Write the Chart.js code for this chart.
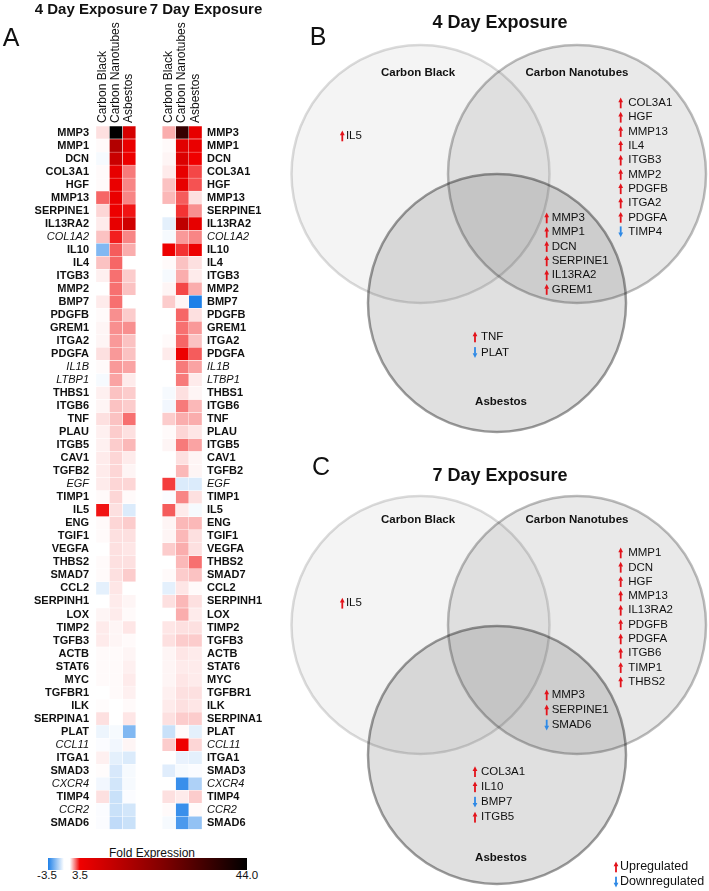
<!DOCTYPE html>
<html lang="en">
<head>
<meta charset="UTF-8">
<title>Fibrosis-related gene expression after particle exposure</title>
<script src="https://cdn.jsdelivr.net/npm/chart.js"></script>
<style>
  body { margin: 0; background: #fff; font-family: Arial, "Liberation Sans", sans-serif; }
  #page { position: relative; width: 709px; height: 891px; overflow: hidden; }
  canvas { position: absolute; }
  .t { position: absolute; transform: translate(-50%, -50%); white-space: nowrap; line-height: 1; color: #111; }
  #cbar { position: absolute; left: 48px; top: 858px; width: 199px; height: 12px;
    background: linear-gradient(to right, rgb(30,128,232) 0%, #fff 8%, #fff 11%, rgb(240,0,0) 16%, rgb(128,0,0) 58%, #000 100%); }
</style>
</head>
<body>
<div id="page">
  <canvas id="heat" width="280" height="843" style="left:0;top:0"></canvas>
  <canvas id="vennB" width="429" height="440" style="left:280px;top:0"></canvas>
  <canvas id="vennC" width="429" height="451" style="left:280px;top:440px"></canvas>

  <div class="t" style="left:91px;top:8px;font-size:15px;font-weight:bold">4 Day Exposure</div>
  <div class="t" style="left:206px;top:8px;font-size:15px;font-weight:bold">7 Day Exposure</div>
  <div class="t" style="left:11px;top:37px;font-size:25px">A</div>

  <div class="t" style="left:152px;top:853px;font-size:12px">Fold Expression</div>
  <div id="cbar"></div>
  <div class="t" style="left:47px;top:876px;font-size:11.5px">-3.5</div>
  <div class="t" style="left:80px;top:876px;font-size:11.5px">3.5</div>
  <div class="t" style="left:247px;top:876px;font-size:11.5px">44.0</div>

  <div class="t" style="left:318px;top:36px;font-size:25px">B</div>
  <div class="t" style="left:500px;top:22px;font-size:18px;font-weight:bold">4 Day Exposure</div>
  <div class="t" style="left:321px;top:466px;font-size:25px">C</div>
  <div class="t" style="left:500px;top:475px;font-size:18px;font-weight:bold">7 Day Exposure</div>
</div>

<script>
// ---- heatmap data (fold expression, negative = downregulated) ----
const genes = ['MMP3','MMP1','DCN','COL3A1','HGF','MMP13','SERPINE1','IL13RA2','COL1A2','IL10',
  'IL4','ITGB3','MMP2','BMP7','PDGFB','GREM1','ITGA2','PDGFA','IL1B','LTBP1',
  'THBS1','ITGB6','TNF','PLAU','ITGB5','CAV1','TGFB2','EGF','TIMP1','IL5',
  'ENG','TGIF1','VEGFA','THBS2','SMAD7','CCL2','SERPINH1','LOX','TIMP2','TGFB3',
  'ACTB','STAT6','MYC','TGFBR1','ILK','SERPINA1','PLAT','CCL11','ITGA1','SMAD3',
  'CXCR4','TIMP4','CCR2','SMAD6'];
const italicGenes = ['COL1A2','IL1B','LTBP1','EGF','CCL11','CXCR4','CCR2'];
const columnNames = ['Carbon Black','Carbon Nanotubes','Asbestos','','','Carbon Black','Carbon Nanotubes','Asbestos'];

const cb4 = [1.3,1.05,-1.1,1.05,1.05,2.5,1.4,1.2,1.6,-2.4,
  1.6,1.15,1.0,1.2,1.05,1.1,1.1,1.3,1.05,-1.1,
  1.15,1.1,1.3,1.15,1.15,1.2,1.2,1.2,1.05,3.3,
  1.05,1.05,1.0,1.05,1.05,-1.3,1.0,1.1,1.2,1.2,
  1.05,1.05,1.05,1.0,1.03,1.3,-1.2,-1.05,1.15,1.03,
  -1.15,1.3,-1.05,-1.05];
const cnt4 = [44,14,10,5,4.5,4.5,4,5,3.2,2.6,
  2.5,2.4,2.4,2.4,2.1,2.1,2.0,2.0,2.0,1.9,
  1.6,1.6,1.6,1.5,1.5,1.4,1.4,1.4,1.4,1.3,
  1.4,1.3,1.3,1.3,1.3,1.25,1.2,1.2,1.1,1.1,
  1.05,1.05,1.05,1.05,1.0,1.0,-1.1,-1.15,-1.3,-1.45,
  -1.5,-1.6,-1.6,-1.7];
const asb4 = [8,4.5,4,2.3,2.2,2.2,3.3,9,2.2,1.8,
  1.0,1.5,1.6,1.0,1.5,2.1,1.6,1.6,1.9,1.2,
  1.5,1.5,2.4,1.3,1.7,1.2,1.1,1.4,1.05,-1.4,
  1.5,1.3,1.25,1.3,1.5,1.0,1.1,1.05,1.25,1.05,
  1.1,1.15,1.2,1.15,1.05,1.25,-2.4,1.1,-1.4,-1.1,
  -1.1,-1.05,-1.5,-1.6];
const cb7 = [1.8,1.05,1.1,1.2,1.6,1.7,1.0,-1.3,-1.1,4,
  1.05,-1.1,1.1,1.5,1.0,1.0,1.05,1.2,1.0,1.0,
  -1.1,-1.15,1.5,1.05,1.1,1.0,1.0,2.9,-1.05,2.6,
  1.1,1.1,1.5,1.0,1.05,-1.3,1.3,1.0,1.25,1.3,
  1.1,1.1,1.1,1.15,1.2,1.3,-1.6,1.5,1.0,-1.35,
  1.0,1.3,1.05,-1.1];
const cnt7 = [35,6,7,5,5,2.6,3.0,12,2.0,3.0,
  1.6,1.8,2.8,1.1,2.5,2.4,2.5,4.0,2.3,2.3,
  1.3,2.3,1.8,1.4,2.3,1.3,1.7,-1.4,2.2,1.2,
  1.7,1.7,1.8,1.7,1.5,1.25,1.7,1.8,1.3,1.5,
  1.25,1.2,1.25,1.3,1.3,1.5,1.05,3.6,-1.25,-1.1,
  -3.2,1.2,-3.2,-3.0];
const asb7 = [5,4.5,3.5,2.8,2.7,1.3,2.1,5,2.2,4,
  1.3,1.2,1.8,-3.5,1.3,2.0,1.6,2.6,1.9,1.2,
  1.1,1.7,1.8,1.25,1.9,1.1,1.1,-1.4,1.3,-1.1,
  1.7,1.3,1.3,2.4,1.6,1.05,1.3,1.2,1.3,1.5,
  1.2,1.2,1.2,1.3,1.25,1.5,-1.3,1.4,-1.3,-1.05,
  -1.9,1.5,1.05,-2.2];
const heatColumns = [cb4, cnt4, asb4, cb7, cnt7, asb7];
const columnSlots = [0, 1, 2, 5, 6, 7];

// ---- venn data: [gene, +1 up / -1 down] ----
const setNames = ['Carbon Black', 'Carbon Nanotubes', 'Asbestos'];
const day4CarbonBlack = [['IL5', 1]];
const day4Nanotubes = [['COL3A1',1],['HGF',1],['MMP13',1],['IL4',1],['ITGB3',1],['MMP2',1],['PDGFB',1],['ITGA2',1],['PDGFA',1],['TIMP4',-1]];
const day4NanoAsb = [['MMP3',1],['MMP1',1],['DCN',1],['SERPINE1',1],['IL13RA2',1],['GREM1',1]];
const day4Asbestos = [['TNF',1],['PLAT',-1]];
const day7CarbonBlack = [['IL5', 1]];
const day7Nanotubes = [['MMP1',1],['DCN',1],['HGF',1],['MMP13',1],['IL13RA2',1],['PDGFB',1],['PDGFA',1],['ITGB6',1],['TIMP1',1],['THBS2',1]];
const day7NanoAsb = [['MMP3',1],['SERPINE1',1],['SMAD6',-1]];
const day7Asbestos = [['COL3A1',1],['IL10',1],['BMP7',-1],['ITGB5',1]];
const legendItems = [['Upregulated',1],['Downregulated',-1]];

const FONT = 'Arial, "Liberation Sans", sans-serif';

function foldColor(v) {
  const mix = (a, b, t) => 'rgb(' + a.map((c, i) => Math.round(c + (b[i] - c) * t)).join(',') + ')';
  if (v <= -1) return mix([255,255,255], [30,128,232], Math.min(1, (-v - 1) / 2.5));
  if (v < 1) return '#fff';
  if (v < 3.5) return mix([255,255,255], [240,0,0], (v - 1) / 2.5);
  return mix([240,0,0], [0,0,0], Math.min(1, (v - 3.5) / 40.5));
}

const geneTickFont = ctx => {
  const it = italicGenes.includes(genes[ctx.index]);
  return { family: FONT, size: 11, weight: it ? 'normal' : 'bold', style: it ? 'italic' : 'normal' };
};
const hidden = { display: false, drawTicks: false };

new Chart(document.getElementById('heat'), {
  type: 'bar',
  data: {
    labels: genes,
    datasets: heatColumns.map((vals, i) => ({
      data: vals.map(() => [columnSlots[i], columnSlots[i] + 1]),
      backgroundColor: vals.map(foldColor),
      borderColor: '#fff',
      borderWidth: 0.5,
      borderSkipped: false,
      grouped: false,
      barPercentage: 1,
      categoryPercentage: 1
    }))
  },
  options: {
    indexAxis: 'y',
    responsive: false,
    animation: false,
    events: [],
    layout: { padding: 0 },
    plugins: { legend: { display: false }, tooltip: { enabled: false } },
    scales: {
      x: { type: 'linear', min: 0, max: 8, display: false },
      top: {
        type: 'category', position: 'top', labels: columnNames, offset: true,
        grid: hidden, border: { display: false },
        ticks: { autoSkip: false, minRotation: 90, maxRotation: 90, padding: 3, labelOffset: 14.4, color: '#111',
          font: { family: FONT, size: 12 } },
        afterFit: s => { s.height = 126; }
      },
      y: {
        type: 'category', position: 'left', offset: true,
        grid: hidden, border: { display: false },
        ticks: { autoSkip: false, padding: 7, color: '#111', font: geneTickFont },
        afterFit: s => { s.width = 96; }
      },
      yr: {
        type: 'category', position: 'right', labels: genes, offset: true,
        grid: hidden, border: { display: false },
        ticks: { autoSkip: false, padding: 5, color: '#111', font: geneTickFont },
        afterFit: s => { s.width = 78; }
      }
    }
  }
});

// ---- venn diagrams ----
function drawArrow(ctx, cx, cy, dir) {
  ctx.fillStyle = dir > 0 ? '#e3131b' : '#2f8ae6';
  ctx.beginPath();
  ctx.moveTo(cx, cy - 5.5 * dir);
  ctx.lineTo(cx + 2.4, cy - 0.8 * dir);
  ctx.lineTo(cx - 2.4, cy - 0.8 * dir);
  ctx.closePath();
  ctx.fill();
  ctx.fillRect(cx - 0.9, dir > 0 ? cy - 1.2 : cy - 5.3, 1.8, 6.5);
}

const vennText = {
  id: 'vennText',
  afterDatasetsDraw(chart, args, opts) {
    const { ctx } = chart;
    const { x, y } = chart.scales;
    ctx.save();
    ctx.textBaseline = 'middle';
    ctx.fillStyle = '#111';
    ctx.font = 'bold 11.5px ' + FONT;
    ctx.textAlign = 'center';
    opts.labels.forEach((p, i) => ctx.fillText(setNames[i], x.getPixelForValue(p[0]), y.getPixelForValue(p[1])));
    opts.lists.forEach(l => {
      l.items.forEach((g, i) => {
        const px = x.getPixelForValue(l.x), py = y.getPixelForValue(l.y + i * l.step);
        drawArrow(ctx, px, py, g[1]);
        ctx.fillStyle = '#111';
        ctx.font = (l.size || 11.5) + 'px ' + FONT;
        ctx.textAlign = 'left';
        ctx.fillText(g[0], px + l.gap, py);
      });
    });
    ctx.restore();
  }
};

function makeVenn(id, h, centers, labels, lists) {
  const fills = ['rgba(0,0,0,0.045)', 'rgba(0,0,0,0.085)', 'rgba(0,0,0,0.12)'];
  const edges = ['rgba(0,0,0,0.14)', 'rgba(0,0,0,0.26)', 'rgba(0,0,0,0.38)'];
  new Chart(document.getElementById(id), {
    type: 'bubble',
    data: {
      datasets: centers.map((c, i) => ({
        label: setNames[i],
        data: [{ x: c[0], y: c[1], r: 129 }],
        backgroundColor: fills[i],
        borderColor: edges[i],
        borderWidth: 2.5,
        clip: false
      }))
    },
    options: {
      responsive: false,
      animation: false,
      events: [],
      layout: { padding: 0, autoPadding: false },
      plugins: { legend: { display: false }, tooltip: { enabled: false }, vennText: { labels, lists } },
      scales: {
        x: { type: 'linear', min: 0, max: 429, display: false },
        y: { type: 'linear', min: 0, max: h, reverse: true, display: false }
      }
    },
    plugins: [vennText]
  });
}

makeVenn('vennB', 440,
  [[140.5, 174], [297, 174], [217, 303]],
  [[138, 73], [297, 73], [221, 402]],
  [
    { items: day4CarbonBlack, x: 62.3, y: 136, step: 14.3, gap: 3.6 },
    { items: day4Nanotubes, x: 340.7, y: 103, step: 14.3, gap: 7.5 },
    { items: day4NanoAsb, x: 266.7, y: 218, step: 14.3, gap: 5 },
    { items: day4Asbestos, x: 195, y: 337, step: 15.4, gap: 6 }
  ]);

makeVenn('vennC', 451,
  [[140.5, 185], [297, 185], [217, 315]],
  [[138, 80], [297, 80], [221, 418]],
  [
    { items: day7CarbonBlack, x: 62.3, y: 163.3, step: 14.3, gap: 3.6 },
    { items: day7Nanotubes, x: 340.7, y: 113, step: 14.33, gap: 7.5 },
    { items: day7NanoAsb, x: 266.7, y: 255, step: 15, gap: 5 },
    { items: day7Asbestos, x: 195, y: 331.7, step: 15.2, gap: 6 },
    { items: legendItems, x: 336, y: 427, step: 15, gap: 4, size: 12.5 }
  ]);
</script>
</body>
</html>
